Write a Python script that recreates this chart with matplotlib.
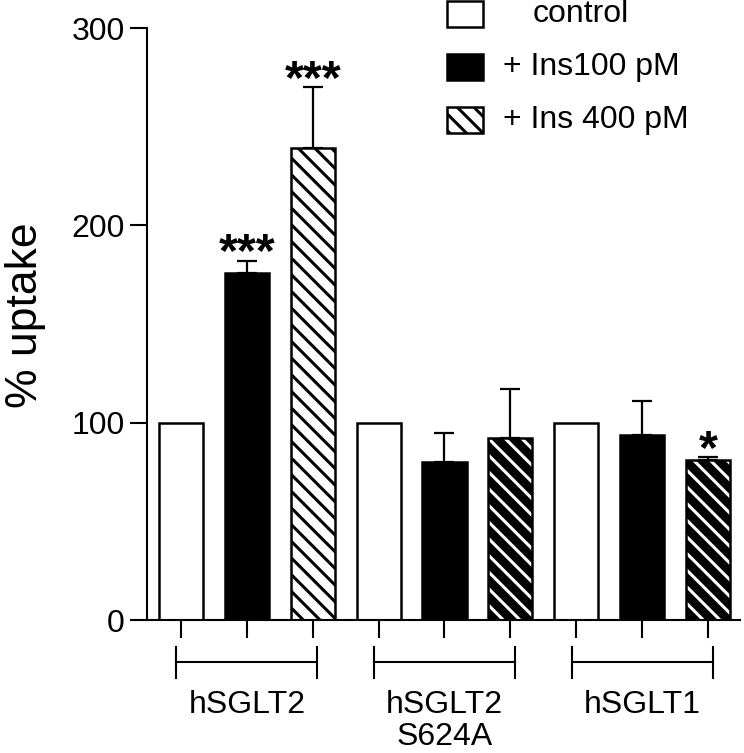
import numpy as np
import matplotlib
matplotlib.use("Agg")
import matplotlib.pyplot as plt
from matplotlib.patches import Rectangle

plt.rcParams['font.family'] = ['Liberation Sans', 'DejaVu Sans']
plt.rcParams['hatch.linewidth'] = 2.2

groups = ["hSGLT2", "hSGLT2\nS624A", "hSGLT1"]
conditions = ["control", "+ Ins100 pM", "+ Ins 400 pM"]
uptake = [100, 176, 239,
          100, 80, 92,
          100, 94, 81]
sem = [0, 6, 31,
       0, 15, 25,
       0, 17, 1.5]
stars = ["", "***", "***",
         "", "", "",
         "", "", "*"]

fig = plt.figure(figsize=(7.44, 7.53), dpi=100)
ax = fig.add_axes([147 / 744, 1 - 620 / 753, (740 - 147) / 744, (620 - 28) / 753])

x = np.arange(len(uptake))
w = 0.67
lw = 1.8

for i in range(len(uptake)):
    kind = i % 3
    if kind == 0:
        ax.bar(x[i], uptake[i], w, color="white", edgecolor="black", linewidth=lw, zorder=2)
    elif kind == 1:
        ax.bar(x[i], uptake[i], w, color="black", edgecolor="black", linewidth=lw, zorder=2)
    else:
        if i == 2:
            # sparse black stripes on white
            ax.bar(x[i], uptake[i], w, color="white", edgecolor="black", hatch="\\\\", linewidth=0, zorder=2)
        else:
            # white stripes on black
            ax.bar(x[i], uptake[i], w, color="black", edgecolor="white", hatch="\\\\", linewidth=0, zorder=2)
        ax.bar(x[i], uptake[i], w, color="none", edgecolor="black", linewidth=lw, zorder=3)
    if sem[i] > 0:
        ax.errorbar(x[i], uptake[i], yerr=[[0], [sem[i]]], fmt="none", ecolor="black",
                    elinewidth=1.6, capsize=7.5, capthick=1.6, zorder=1)
    if stars[i]:
        ax.annotate(stars[i], (x[i], uptake[i] + sem[i]), xytext=(0, -4), textcoords="offset points",
                    ha="center", va="baseline", fontsize=35, fontweight="bold")

ax.set_xlim(-0.516, 8.486)
ax.set_ylim(0, 300)
ax.set_yticks([0, 100, 200, 300])
ax.tick_params(axis="y", labelsize=23, length=12, width=1.5, pad=4)
ax.set_xticks(x)
ax.set_xticklabels([])
ax.tick_params(axis="x", length=13, width=1.5)
for s in ["top", "right"]:
    ax.spines[s].set_visible(False)
for s in ["left", "bottom"]:
    ax.spines[s].set_linewidth(1.5)
ax.set_ylabel("% uptake", fontsize=32)
ax.yaxis.set_label_coords(-0.17, 0.515)

# group brackets under the axis
tr = ax.get_xaxis_transform()
for g, name in enumerate(groups):
    x0 = g * 3 - 0.07
    x1 = g * 3 + 2 + 0.07
    ax.plot([x0, x1], [-0.0709, -0.0709], color="black", lw=1.5, transform=tr, clip_on=False)
    ax.plot([x0, x0], [-0.045, -0.098], color="black", lw=1.5, transform=tr, clip_on=False)
    ax.plot([x1, x1], [-0.045, -0.098], color="black", lw=1.5, transform=tr, clip_on=False)
    ax.text(g * 3 + 1, -0.119, name, transform=tr, ha="center", va="top", fontsize=23,
            linespacing=1.05)

# legend drawn by hand
leg_y = [14, 67, 120]
styles = [dict(facecolor="white", edgecolor="black"),
          dict(facecolor="black", edgecolor="black"),
          dict(facecolor="white", edgecolor="black", hatch="\\\\")]
text_x = [533, 503, 503]
for lbl, yy, st, tx in zip(conditions, leg_y, styles, text_x):
    fig.patches.append(Rectangle((447 / 744, 1 - (yy + 13) / 753), 36 / 744, 26 / 753,
                                 transform=fig.transFigure, linewidth=lw, **st))
    fig.text(tx / 744, 1 - yy / 753, lbl, ha="left", va="center", fontsize=23)

fig.savefig("out.png", dpi=100)
